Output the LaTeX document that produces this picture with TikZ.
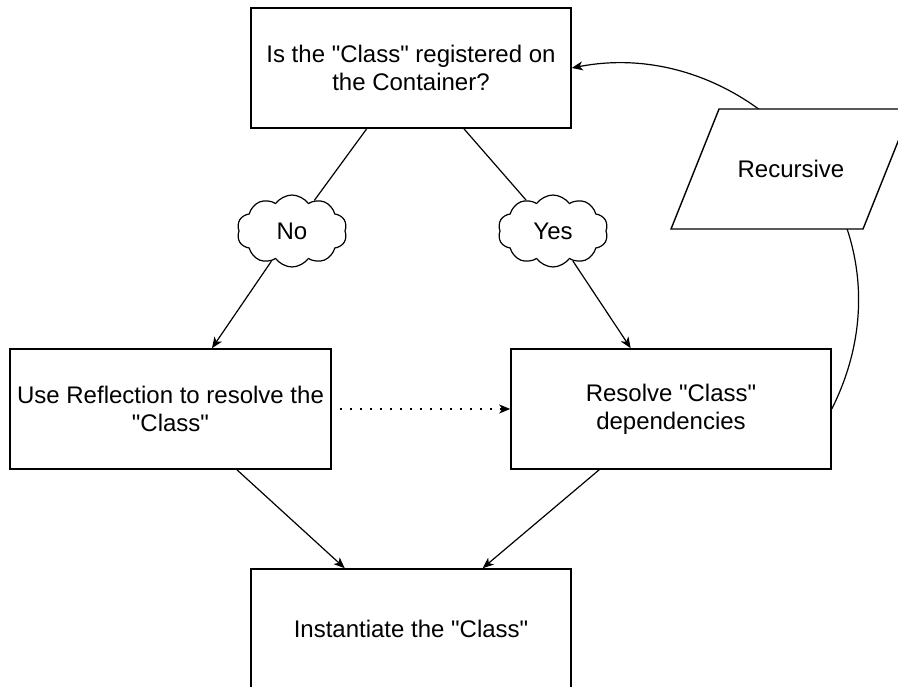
\documentclass[tikz,border=0pt]{standalone}
\usepackage{fontspec}
\setmainfont{Liberation Sans}[Ligatures=TeXOff]
\usetikzlibrary{arrows.meta,shapes.symbols}

\tikzset{
    box/.style={draw, line width=1.6pt, minimum width=320pt, minimum height=120pt, align=center, inner sep=2pt},
    answer/.style={draw, cloud, cloud puffs=10, cloud puff arc=110, aspect=1.5, minimum width=110pt, minimum height=72pt, line width=1.2pt, inner sep=0pt},
    slanted/.style={draw, fill=white, line width=1.4pt},
    link/.style={line width=1.2pt},
    flow/.style={link, -{Stealth[length=11pt,width=9pt,inset=3pt]}},
}

\begin{document}
\begin{tikzpicture}[x=1pt, y=-1pt, font=\fontsize{24}{28}\selectfont]
        \useasboundingbox (0,0) rectangle (898,687);
        %% Boxes
        \node[box] (query) at (411,68) {Is the "Class" registered on\\the Container?};
        \node[box, minimum width=321pt] (reflect) at (170.5,409) {Use Reflection to resolve the\\"Class"};
        \node[box] (deps) at (671,409) {Resolve "Class"\\dependencies};
        \node[box] (inst) at (411,629) {Instantiate the "Class"};
        %% Answers
        \node[answer] (no) at (292,231) {No};
        \node[answer] (yes) at (553,231) {Yes};
        %% Recursion
        \coordinate (rec pos) at (791,169);
        \draw[flow] (deps.east) .. controls +(95,-190) and +(180,-35) .. (query.east);
        \draw[slanted] ([shift={(-120,60)}]rec pos) -- ++(192,0) -- ++(48,-120) -- ++(-192,0) -- cycle;
        \node (rec) at (rec pos) {Recursive};
        %% Connectors
        \draw[link] (query) -- (no);
        \draw[link] (query) -- (yes);
        \draw[flow] (no) -- (reflect);
        \draw[flow] (yes) -- (deps);
        \draw[flow, dash pattern=on 2pt off 8pt, shorten <=8pt] (reflect) -- (deps);
        \draw[flow] (reflect) -- (inst);
        \draw[flow] (deps) -- (inst);
\end{tikzpicture}
\end{document}
